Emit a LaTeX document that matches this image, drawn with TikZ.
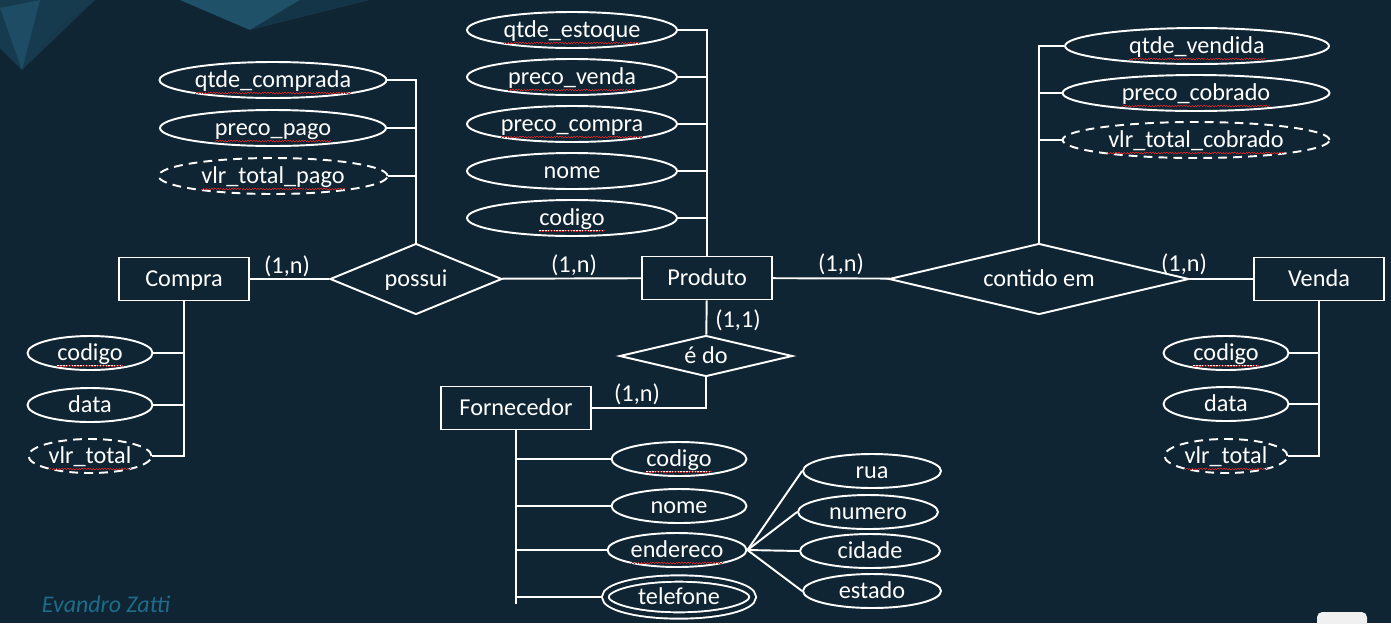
\documentclass[tikz,border=0pt]{standalone}
\usepackage{fontspec}
\setmainfont{Carlito}
\usetikzlibrary{positioning, shapes.geometric}
\definecolor{bgNavy}{RGB}{16,37,51}
\definecolor{decoBlue}{RGB}{38,100,128}
\definecolor{decoDark}{RGB}{22,58,78}
\definecolor{signTeal}{RGB}{30,108,138}
\definecolor{spellRed}{RGB}{220,30,30}
% red spell-check wave under a word
\newcommand\wavepiece{\hbox{{\color{spellRed}\rule{0.8pt}{0.5pt}\raise0.55pt\hbox{\rule{0.8pt}{0.5pt}}}}}
\newcommand\spell[1]{\setbox0\hbox{#1}\leavevmode
  \rlap{\smash{\lower3.6pt\hbox to \wd0{\xleaders\wavepiece\hfil}}}\box0}
\newcommand\pk[1]{\setbox1\hbox{#1}\leavevmode
  \rlap{\smash{\lower2.9pt\hbox{\rule{\wd1}{0.6pt}}}}\spell{#1}}

\begin{document}
\begin{tikzpicture}[
  x=0.02cm, y=-0.02cm, line width=1.1pt, white,
  font=\fontsize{13.8}{16}\selectfont,
  every node/.style={text height=9.8pt, text depth=0.8pt},
  ent/.style={draw, rectangle, minimum width=2.6cm, minimum height=0.86cm, inner sep=0pt},
  rel/.style={draw, diamond, aspect=2.4, minimum width=3.44cm, minimum height=1.42cm, inner sep=0pt},
  attr/.style={draw, ellipse, minimum width=#1, minimum height=0.72cm, inner sep=0pt},
  dattr/.style={attr=#1, dash pattern=on 5pt off 3.5pt},
  sattr/.style={attr=#1, minimum height=0.68cm},
  sdattr/.style={sattr=#1, dash pattern=on 5pt off 3.5pt},
  card/.style={inner sep=0pt},
]
  % background
  \fill[bgNavy] (0,0) rectangle (1391,623);
  \useasboundingbox (0,0) rectangle (1391,623);
  \fill[decoDark] (0,0) -- (95,0) -- (57,28) -- (22,70) -- (0,48) -- cycle;
  \fill[decoBlue, opacity=0.45] (0,8) -- (40,0) -- (22,70) -- cycle;
  \fill[decoBlue, opacity=0.3] (57,28) -- (95,0) -- (22,70) -- cycle;
  \fill[decoBlue, opacity=0.7] (180,0) -- (300,0) -- (250,30) -- cycle;
  \fill[decoDark, opacity=0.8] (300,0) -- (370,0) -- (250,30) -- cycle;
  \fill[gray!12, rounded corners=3pt] (1317,612) rectangle (1367,640);

  % entities and relationships
  \node[ent] (compra) at (184,279) {Compra};
  \node[ent] (produto) at (707,278) {Produto};
  \node[ent] (venda) at (1319,279) {Venda};
  \node[ent, minimum width=3cm] (forn) at (516,408) {Fornecedor};
  \node[rel] (possui) at (416,279) {possui};
  \node[rel, aspect=4.2, minimum width=6cm] (contido) at (1039,279) {contido em};
  \node[rel, aspect=4.2, minimum width=3.46cm, minimum height=0.82cm] (edo) at (706,356) {é do};

  \draw (compra) -- (possui);
  \draw (possui) -- (produto);
  \draw (produto) -- (contido);
  \draw (contido) -- (venda);
  \draw (produto) -- (edo);
  \draw (edo.south) |- (forn.east);

  \node[card] (c1) at (287,266) {(1,n)};
  \node[card] (c2) at (574,265) {(1,n)};
  \node[card] (c3) at (841,264) {(1,n)};
  \node[card] (c4) at (1184,264) {(1,n)};
  \node[card] (c5) at (738,320) {(1,1)};
  \node[card] (c6) at (637,394) {(1,n)};

  % possui
  \node[attr=4.54cm] (qcomp) at (273,80) {\spell{qtde\_comprada}};
  \node[attr=4.52cm] (ppago) at (273,128) {\spell{preco\_pago}};
  \node[dattr=4.58cm] (vtpago) at (273,176) {\spell{vlr\_total\_pago}};
  \draw (possui.north) -- (possui.north |- qcomp.east) -- (qcomp.east);
  \foreach \a in {ppago, vtpago}
    \draw (\a.east) -- (possui.north |- \a.east);

  % Produto
  \node[attr=4.2cm] (qestq) at (572,30) {\spell{qtde\_estoque}};
  \node[attr=4.2cm] (pvenda) at (572,77) {\spell{preco\_venda}};
  \node[attr=4.2cm] (pcompra) at (572,124) {\spell{preco\_compra}};
  \node[attr=4.2cm] (pnome) at (572,171) {nome};
  \node[attr=4.2cm] (pcod) at (572,218) {\pk{codigo}};
  \draw (produto.north) -- (produto.north |- qestq.east) -- (qestq.east);
  \foreach \a in {pvenda, pcompra, pnome, pcod}
    \draw (\a.east) -- (produto.north |- \a.east);

  % contido em
  \node[attr=5.28cm] (qvend) at (1197,46) {\spell{qtde\_vendida}};
  \node[attr=5.34cm] (pcobr) at (1196,93) {\spell{preco\_cobrado}};
  \node[dattr=5.34cm] (vtcobr) at (1196,140) {\spell{vlr\_total\_cobrado}};
  \draw (contido.north) -- (contido.north |- qvend.west) -- (qvend.west);
  \foreach \a in {pcobr, vtcobr}
    \draw (\a.west) -- (contido.north |- \a.west);

  % Compra
  \node[sattr=2.5cm] (ccod) at (90,353) {\pk{codigo}};
  \node[sattr=2.5cm] (cdata) at (90,405) {data};
  \node[sdattr=2.46cm] (cvt) at (90,456) {\spell{vlr\_total}};
  \draw (compra.south) -- (compra.south |- cvt.east) -- (cvt.east);
  \foreach \a in {ccod, cdata}
    \draw (\a.east) -- (compra.south |- \a.east);

  % Venda
  \node[sattr=2.5cm] (vcod) at (1226,353) {\pk{codigo}};
  \node[sattr=2.5cm] (vdata) at (1226,404) {data};
  \node[sdattr=2.46cm] (vvt) at (1226,456) {\spell{vlr\_total}};
  \draw (venda.south) -- (venda.south |- vvt.east) -- (vvt.east);
  \foreach \a in {vcod, vdata}
    \draw (\a.east) -- (venda.south |- \a.east);

  % Fornecedor
  \node[sattr=2.7cm] (fcod) at (679,459) {\pk{codigo}};
  \node[sattr=2.7cm] (fnome) at (679,506) {nome};
  \node[sattr=2.78cm] (fend) at (677,550) {\spell{endereco}};
  \node[sattr=2.95cm, minimum height=0.74cm, double=bgNavy, double distance=2.5pt] (ftel) at (679,597) {telefone};
  \coordinate (fbot) at (516,604);
  \draw (forn.south) -- (fbot);
  \foreach \a in {fcod, fnome, fend}
    \draw (\a.west) -- (forn.south |- \a.west);
  \draw (forn.south |- ftel.west) -- ([xshift=-1.8pt]ftel.west);

  % endereco
  \node[sattr=2.76cm] (rua) at (872,471) {rua};
  \node[sattr=2.8cm] (num) at (868,512) {numero};
  \node[sattr=2.8cm] (cid) at (870,551) {cidade};
  \node[sattr=2.76cm] (est) at (872,591) {estado};
  \foreach \a in {rua, num, cid, est}
    \draw (fend.east) -- (\a.west);

  \node[signTeal, anchor=west, inner sep=0pt, font=\fontsize{13.6}{15}\selectfont\itshape] (sign) at (41,605) {Evandro Zatti};
\end{tikzpicture}
\end{document}
